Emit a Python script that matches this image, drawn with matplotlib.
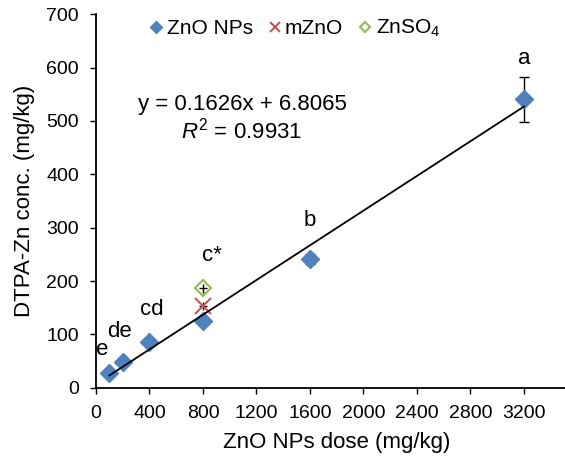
import numpy as np
import matplotlib.pyplot as plt

# ZnO NPs (mean and error)
dose = [100, 200, 400, 800, 1600, 3200]
zn_nps = [27, 48, 86, 126, 241, 541]
zn_nps_err = [3, 3, 3, 4, 9, 42]

# bulk ZnO and ZnSO4 at 800 mg/kg
mzno_dose = [800]
mzno = [153]
mzno_err = [8]
znso4_dose = [800]
znso4 = [186]
znso4_err = [8]
# small horizontal bar seen on the 800 mg/kg markers
cross_xerr = [30]

# fitted line
slope = 0.1626
intercept = 6.8065
r2 = 0.9931

# significance letters: (x, y, text)
letter_x = [3200, 1600, 870, 416, 174, 50]
letter_y = [618, 313, 247, 147, 106, 72]
letters = ['a', 'b', 'c*', 'cd', 'de', 'e']

xticks = list(range(0, 3201, 400))
yticks = list(range(0, 701, 100))


def main():
    plt.rcParams['font.family'] = ['Liberation Sans', 'DejaVu Sans']
    plt.rcParams['mathtext.fontset'] = 'custom'
    plt.rcParams['mathtext.rm'] = 'Liberation Sans'
    plt.rcParams['mathtext.it'] = 'Liberation Sans:italic'

    blue = '#4F81BD'
    red = '#C0504D'
    green = '#9BBB59'

    fig = plt.figure(figsize=(5.65, 4.57), dpi=100)
    ax = fig.add_axes([0.1699, 0.1516, 0.8522, 0.8171])

    # error bars
    ax.errorbar(dose, zn_nps, yerr=zn_nps_err, fmt='none', ecolor='black',
                elinewidth=1.0, capsize=3.6, capthick=1.0, zorder=2)
    ax.errorbar(mzno_dose, mzno, yerr=mzno_err, xerr=cross_xerr, fmt='none',
                ecolor='black', elinewidth=1.0, capsize=0, zorder=2)
    ax.errorbar(znso4_dose, znso4, yerr=znso4_err, xerr=cross_xerr, fmt='none',
                ecolor='black', elinewidth=1.0, capsize=0, zorder=4)

    # markers
    ax.plot(dose, zn_nps, linestyle='none', marker='D', ms=9.2,
            color=blue, mec=blue, label='ZnO NPs', zorder=3)
    ax.plot(mzno_dose, mzno, linestyle='none', marker='x', ms=11,
            mew=1.4, color=red, label='mZnO', zorder=3)
    ax.plot(znso4_dose, znso4, linestyle='none', marker='D', ms=8,
            mfc='white', mec=green, mew=1.6, label='ZnSO$_4$', zorder=3)

    # trendline
    xf = np.array([min(dose), max(dose)])
    ax.plot(xf, slope * xf + intercept, color='black', lw=1.3, zorder=5)

    ax.text(1092, 530, 'y = %.4fx + %.4f' % (slope, intercept),
            ha='center', va='center', fontsize=16)
    ax.text(1092, 483, '$R^2$ = %.4f' % r2,
            ha='center', va='center', fontsize=16)

    for x, y, t in zip(letter_x, letter_y, letters):
        ax.text(x, y, t, ha='center', va='center', fontsize=16, clip_on=False)

    ax.set_xlim(0, 3600)
    ax.set_ylim(0, 700)
    ax.set_xticks(xticks)
    ax.set_yticks(yticks)
    ax.tick_params(direction='out', length=4.3, width=1.0, labelsize=14, pad=8)
    for side in ['top', 'right']:
        ax.spines[side].set_visible(False)
    for side in ['left', 'bottom']:
        ax.spines[side].set_linewidth(1.3)

    ax.set_xlabel('ZnO NPs dose (mg/kg)', fontsize=16, labelpad=7)
    ax.set_ylabel('DTPA-Zn conc. (mg/kg)', fontsize=16, labelpad=8)

    ax.legend(loc='upper left', bbox_to_anchor=(0.112, 0.99), ncol=3,
              frameon=False, fontsize=15, markerscale=0.66, handlelength=0.6,
              handletextpad=0.2, columnspacing=0.75, borderpad=0,
              borderaxespad=0)

    fig.savefig('out.png', dpi=100)


if __name__ == '__main__':
    main()
